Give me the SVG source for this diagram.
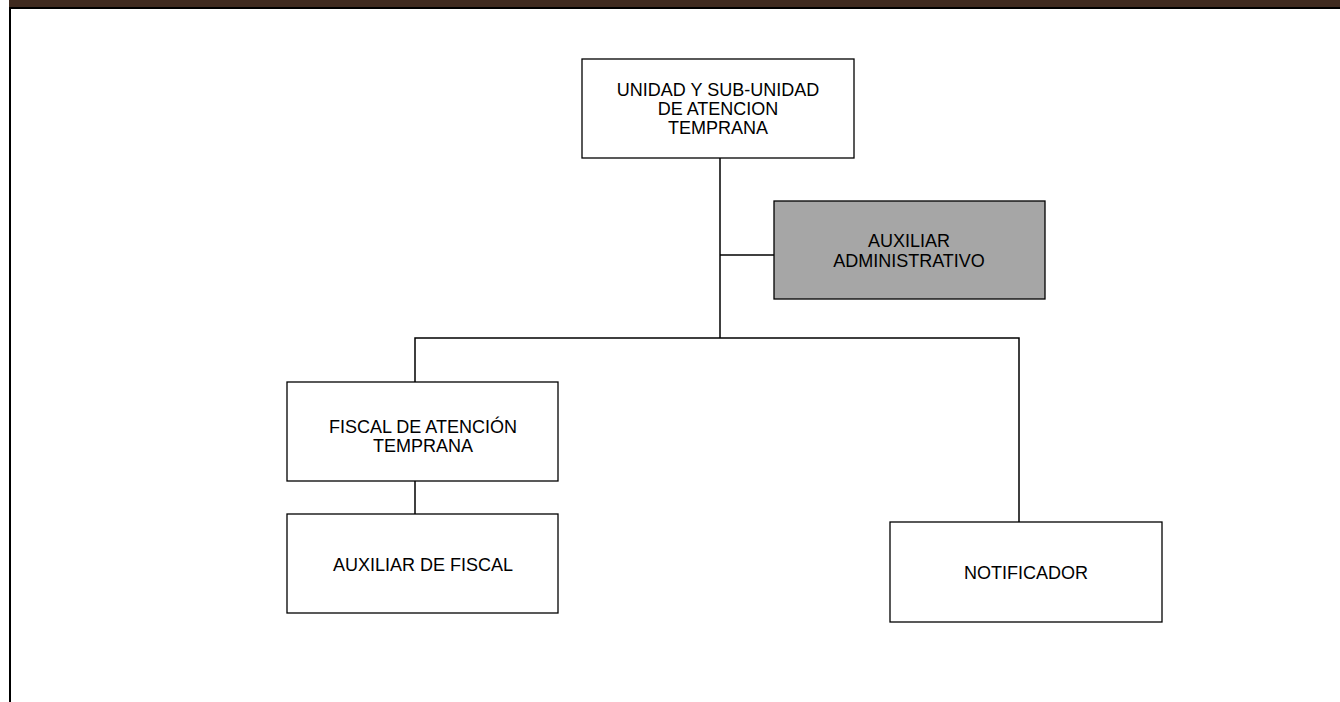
<svg xmlns="http://www.w3.org/2000/svg" width="1340" height="702" viewBox="0 0 1340 702">
<style>
.box{fill:#fff;stroke:#000;stroke-width:1.3}
.gray{fill:#a6a6a6}
.lbl{font-family:"Liberation Sans",Arial,sans-serif;font-size:18px;fill:#000;text-anchor:middle}
.conn{fill:none;stroke:#000;stroke-width:1.5}
</style>
<rect x="0" y="0" width="1340" height="702" fill="#fff"/>
<rect x="9" y="0" width="1331" height="7" fill="#3f2a1f"/>
<rect x="9" y="7" width="1331" height="2" fill="#000"/>
<rect x="9" y="7" width="2" height="695" fill="#000"/>
<g id="connectors">
<path class="conn" d="M720 158V338"/>
<path class="conn" d="M720 255H774"/>
<path class="conn" d="M415 382V338H1019V522"/>
<path class="conn" d="M415 481V514"/>
</g>
<g id="n-unidad">
<rect class="box" x="582" y="59" width="272" height="99"/>
<text class="lbl" x="718" y="96">UNIDAD Y SUB-UNIDAD</text>
<text class="lbl" x="718" y="115">DE ATENCION</text>
<text class="lbl" x="718" y="134">TEMPRANA</text>
</g>
<g id="n-auxadmin">
<rect class="box gray" x="774" y="201" width="271" height="98"/>
<text class="lbl" x="909" y="247">AUXILIAR</text>
<text class="lbl" x="909" y="267">ADMINISTRATIVO</text>
</g>
<g id="n-fiscal">
<rect class="box" x="287" y="382" width="271" height="99"/>
<text class="lbl" x="423" y="433">FISCAL DE ATENCIÓN</text>
<text class="lbl" x="423" y="452">TEMPRANA</text>
</g>
<g id="n-auxfiscal">
<rect class="box" x="287" y="514" width="271" height="99"/>
<text class="lbl" x="423" y="571">AUXILIAR DE FISCAL</text>
</g>
<g id="n-notificador">
<rect class="box" x="890" y="522" width="272" height="100"/>
<text class="lbl" x="1026" y="579">NOTIFICADOR</text>
</g>
</svg>
